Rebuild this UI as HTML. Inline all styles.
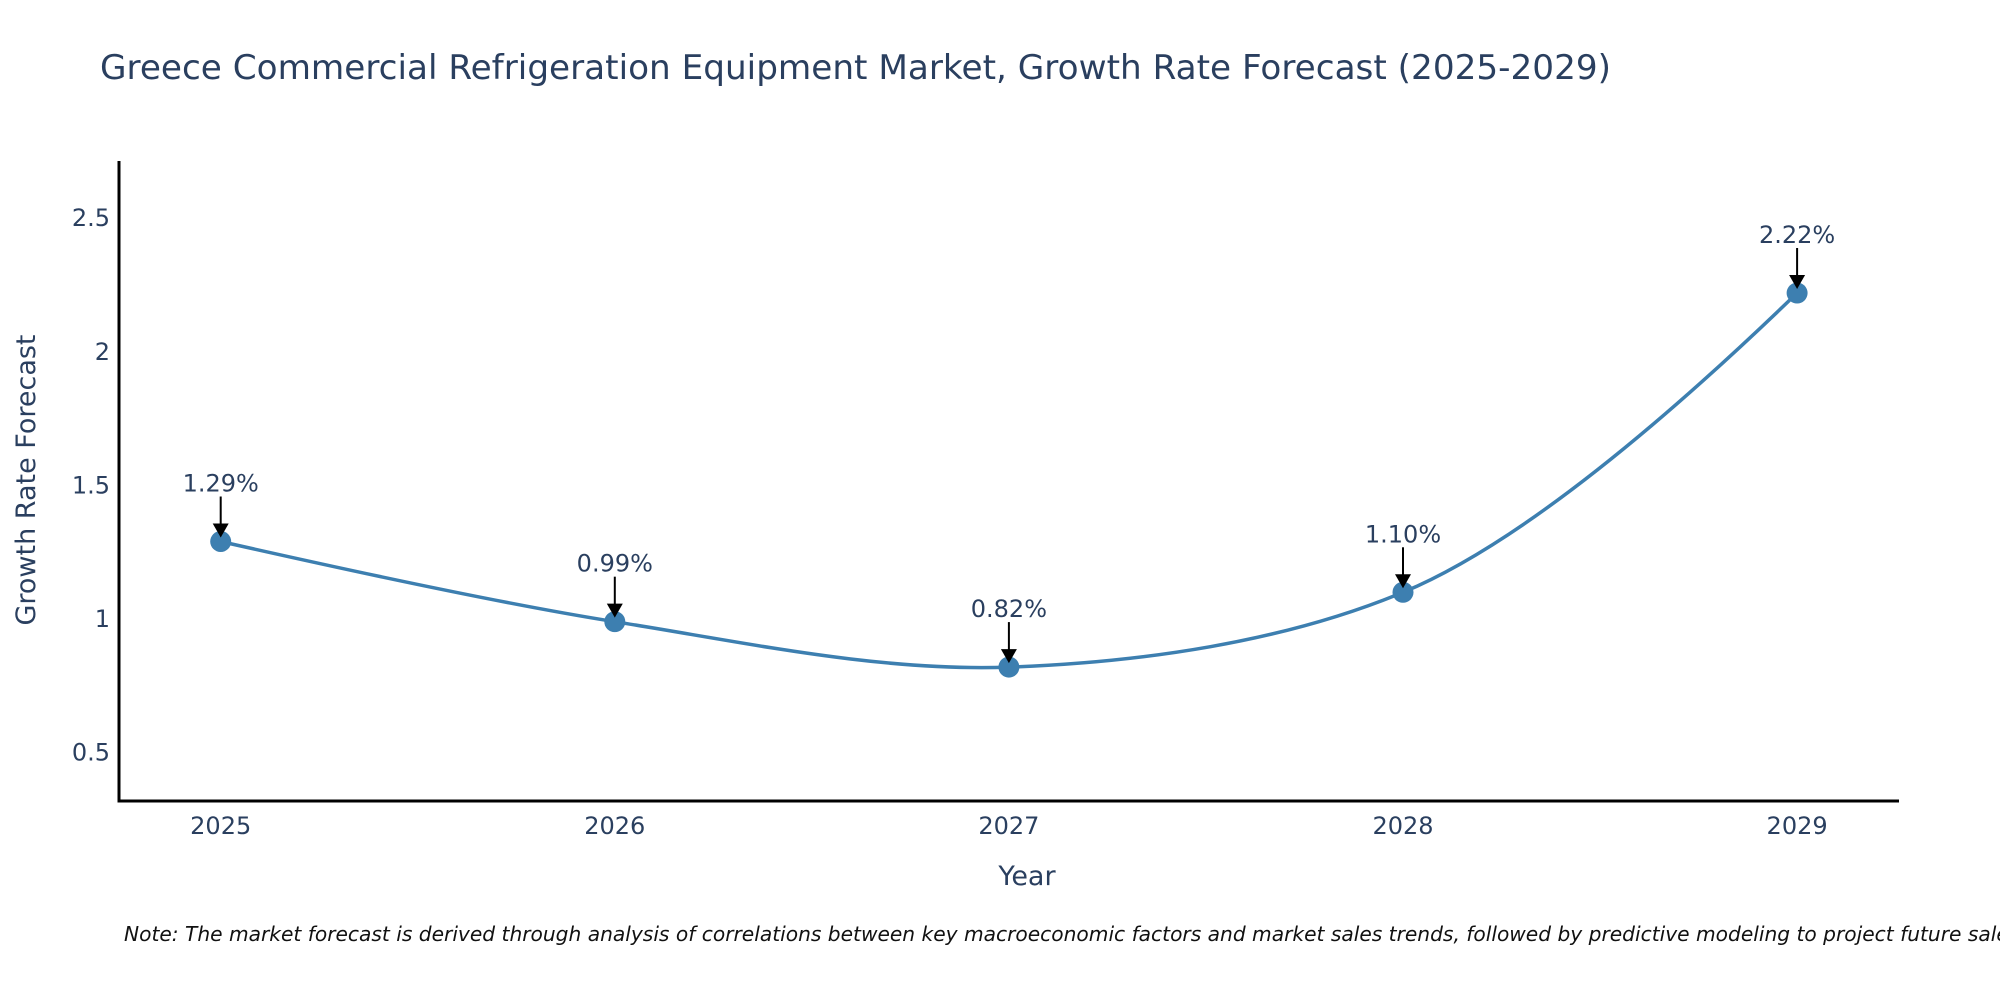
<!DOCTYPE html>
<html><head><meta charset="utf-8"><style>
body{margin:0;background:#fff;}
svg{display:block;font-family:"DejaVu Sans","Liberation Sans",sans-serif;}
</style></head><body>
<svg id="chart" width="2000" height="1000" viewBox="0 0 2000 1000">
<text x="100" y="79" font-size="34" fill="#2a3f5f" textLength="1511" lengthAdjust="spacingAndGlyphs">Greece Commercial Refrigeration Equipment Market, Growth Rate Forecast (2025-2029)</text>
<g id="plot"></g>
<text x="1027" y="885" font-size="27" fill="#2a3f5f" text-anchor="middle">Year</text>
<text transform="translate(35,480) rotate(-90)" font-size="27" fill="#2a3f5f" text-anchor="middle">Growth Rate Forecast</text>
<text x="124" y="941" font-size="20.2" font-style="italic" fill="#111">Note: The market forecast is derived through analysis of correlations between key macroeconomic factors and market sales trends, followed by predictive modeling to project future sales.</text>
</svg>
<script>
const years = [2025, 2026, 2027, 2028, 2029];
const growth = [1.29, 0.99, 0.82, 1.10, 2.22];
const labels = ["1.29%", "0.99%", "0.82%", "1.10%", "2.22%"];
const yTicks = [0.5, 1, 1.5, 2, 2.5];

const NS = "http://www.w3.org/2000/svg";
const g = document.getElementById("plot");
function xs(v){ return 220.7 + (v - 2025) * 394.1; }
function ys(v){ return 752.6 - (v - 0.5) * 267.2; }
function mk(tag, attrs, parent){ const e = document.createElementNS(NS, tag); for (const k in attrs) e.setAttribute(k, attrs[k]); (parent||g).appendChild(e); return e; }

const yAxis = mk("line", {x1:119, y1:161, x2:119, y2:802, stroke:"#000", "stroke-width":3});


const xAxis = mk("line", {x1:117.5, y1:801, x2:1899, y2:801, stroke:"#000", "stroke-width":3});



yTicks.forEach(t => {
  const e = mk("text", {x:110, y:ys(t)+8, "font-size":24, fill:"#2a3f5f", "text-anchor":"end"});
  e.textContent = String(t);
  
  
});
years.forEach(y => {
  const e = mk("text", {x:xs(y), y:834, "font-size":24, fill:"#2a3f5f", "text-anchor":"middle"});
  e.textContent = String(y);
  
  
});

const pts = years.map((y,i) => [xs(y), ys(growth[i])]);
const n = pts.length;
const smooth = 1;
// plotly-style spline tangents
function makeTangent(prev, cur, next){
  const d1x = prev[0]-cur[0], d1y = prev[1]-cur[1], d2x = next[0]-cur[0], d2y = next[1]-cur[1];
  const d1a = Math.pow(d1x*d1x + d1y*d1y, smooth/2), d2a = Math.pow(d2x*d2x + d2y*d2y, smooth/2);
  const numx = (d2a*d2a*d1x - d1a*d1a*d2x) * smooth, numy = (d2a*d2a*d1y - d1a*d1a*d2y) * smooth;
  const den1 = 3*d2a*(d1a+d2a), den2 = 3*d1a*(d1a+d2a);
  return [[cur[0] + numx/den1, cur[1] + numy/den1], [cur[0] - numx/den2, cur[1] - numy/den2]];
}
const tg = [];
for (let i = 1; i < n-1; i++) tg.push(makeTangent(pts[i-1], pts[i], pts[i+1]));
let d = "M" + pts[0] + " Q" + tg[0][0] + " " + pts[1];
for (let i = 2; i < n-1; i++) d += " C" + tg[i-2][1] + " " + tg[i-1][0] + " " + pts[i];
d += " Q" + tg[n-3][1] + " " + pts[n-1];
const line = mk("path", {d:d, fill:"none", stroke:"#3d7fb0", "stroke-width":3.5});



pts.forEach((p,i) => {
  const c = mk("circle", {cx:p[0], cy:p[1], r:10.5, fill:"#3d7fb0"});
  
  
  const a = mk("line", {x1:p[0], y1:p[1]-45, x2:p[0], y2:p[1]-16, stroke:"#000", "stroke-width":2});
  
  
  const h = mk("polygon", {points:`${p[0]-8},${p[1]-18} ${p[0]+8},${p[1]-18} ${p[0]},${p[1]-4}`, fill:"#000"});
  
  
  const t = mk("text", {x:p[0], y:p[1]-50, "font-size":24, fill:"#2a3f5f", "text-anchor":"middle"});
  t.textContent = labels[i];
  
  
});
</script>
</body></html>
